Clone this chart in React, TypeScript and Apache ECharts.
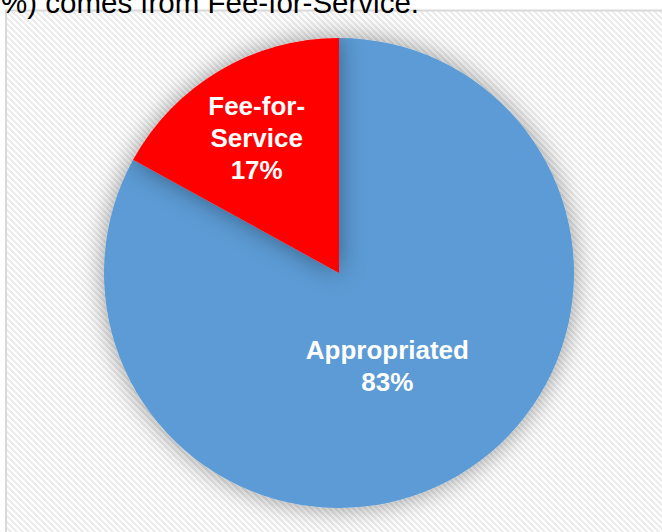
import React, { useEffect, useRef } from "react";
import * as echarts from "echarts";

const categories = ["Appropriated", "Fee-for-Service"];
const values = [83, 17];
const colors = ["#5B9BD5", "#FF0000"];
const labelOffsets = [
  [-13, -11],
  [-21, -31],
];
const headingText = "(17%) comes from Fee-for-Service.";

function makePattern() {
  const c = document.createElement("canvas");
  c.width = 6;
  c.height = 6;
  const ctx = c.getContext("2d");
  if (ctx) {
    ctx.fillStyle = "#ffffff";
    ctx.fillRect(0, 0, 6, 6);
    ctx.fillStyle = "#ececec";
    for (let y = 0; y < 6; y++) {
      for (let x = 0; x < 6; x++) {
        if ((x - y + 12) % 6 < 3) ctx.fillRect(x, y, 1, 1);
      }
    }
  }
  return c;
}

export default function App() {
  const ref = useRef<HTMLDivElement>(null);
  useEffect(() => {
    if (!ref.current) return;
    const chart = echarts.init(ref.current, null, { renderer: "svg" });
    const pat = makePattern();
    chart.setOption({
      animation: false,
      backgroundColor: "#ffffff",
      graphic: [
        {
          type: "rect",
          z: -10,
          shape: { x: 6, y: 10.5, width: 700, height: 600 },
          style: {
            fill: { image: pat, repeat: "repeat", imageWidth: 6, imageHeight: 6 },
            stroke: "#d9d9d9",
            lineWidth: 2,
          },
        },
        {
          type: "text",
          z: 10,
          x: 419,
          y: 2,
          style: {
            text: headingText,
            fill: "#000000",
            font: "29.5px 'Liberation Sans', Arial, sans-serif",
            textAlign: "right",
            textVerticalAlign: "middle",
          },
        },
      ],
      series: [
        {
          type: "pie",
          center: [339, 273],
          radius: [0, 235],
          startAngle: 90,
          clockwise: true,
          silent: true,
          percentPrecision: 0,
          itemStyle: {
            shadowBlur: 26,
            shadowColor: "rgba(0,0,0,0.4)",
            shadowOffsetX: 0,
            shadowOffsetY: 0,
          },
          label: {
            show: true,
            position: "inside",
            color: "#ffffff",
            fontFamily: "'Liberation Sans', Arial, sans-serif",
            fontWeight: "bold",
            fontSize: 26,
            lineHeight: 32,
            align: "center",
            formatter: (p: any) =>
              p.name.replace(/^(Fee-for-)/, "$1\n") + "\n" + p.percent + "%",
          },
          labelLine: { show: false },
          emphasis: { disabled: true },
          data: categories.map((name, i) => ({
            name,
            value: values[i],
            itemStyle: { color: colors[i] },
            label: { offset: labelOffsets[i] },
          })),
        },
      ],
    });
    return () => chart.dispose();
  }, []);
  return (
    <div
      ref={ref}
      style={{ position: "fixed", left: 0, top: 0, width: 662, height: 532 }}
    />
  );
}
